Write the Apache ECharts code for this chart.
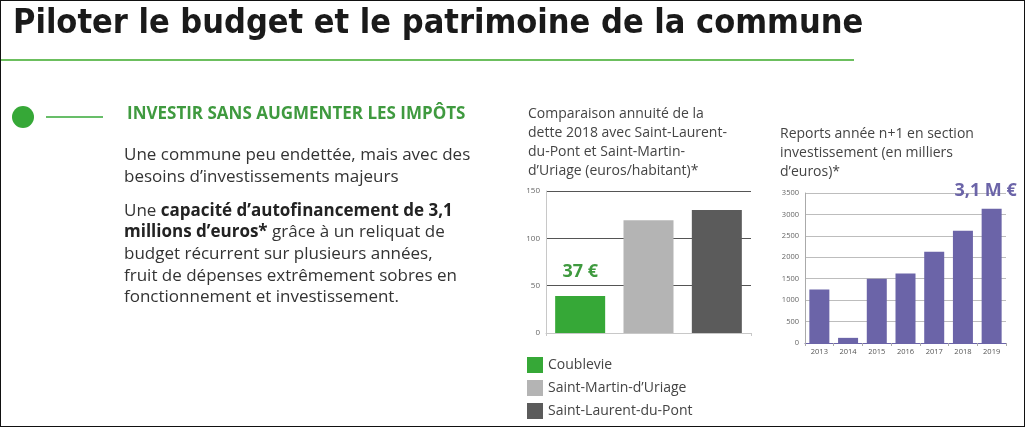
<!DOCTYPE html>
<html>
<head>
    <meta charset="utf-8">
    <script src="https://cdn.jsdelivr.net/npm/echarts@6/dist/echarts.min.js"></script>
    <style>
        html, body { margin: 0; padding: 0; background: #fff; }
        #main { width: 1025px; height: 427px; box-sizing: border-box; border: 1px solid #111; }
    </style>
</head>
<body>
    <div id="main"></div>
</body>
<script type="text/javascript">
    // données
    var communes = ['Coublevie', 'Saint-Martin-d\u2019Uriage', 'Saint-Laurent-du-Pont'];
    var annuite = [39, 119, 130];
    var couleursCommunes = ['#36a837', '#b4b4b4', '#5b5b5b'];

    var annees = ['2013', '2014', '2015', '2016', '2017', '2018', '2019'];
    var reports = [1250, 120, 1500, 1620, 2130, 2620, 3130];

    var FONT = 'Open Sans';
    var myChart = echarts.init(document.getElementById('main'));

    // une série par commune pour la légende
    var seriesCommunes = communes.map(function (nom, i) {
        var d = communes.map(function (c, j) { return j === i ? annuite[j] : '-'; });
        return {
            name: nom,
            type: 'bar',
            stack: 'annuite',
            xAxisIndex: 0,
            yAxisIndex: 0,
            barWidth: 50,
            itemStyle: { color: couleursCommunes[i] },
            label: i === 0 ? {
                show: true,
                position: 'top',
                distance: 15,
                formatter: '37 \u20ac',
                color: '#3f9a3f',
                fontFamily: FONT,
                fontWeight: 'bold',
                fontSize: 18
            } : { show: false },
            data: d
        };
    });

    var lignes = function (arr, x, y0, dy, style) {
        return arr.map(function (t, i) {
            return {
                type: 'text', left: x, top: y0 + i * dy,
                style: Object.assign({ text: t, fontFamily: FONT, fill: '#333' }, style)
            };
        });
    };

    var graphics = [
        { type: 'text', left: 12, top: 6,
          style: { text: 'Piloter le budget et le patrimoine de la commune', fontFamily: 'DejaVu Sans Condensed',
                   fontSize: 34, fontWeight: 'bold', fill: '#1a1a1a' } },
        { type: 'line', shape: { x1: 0, y1: 59, x2: 853, y2: 59 }, style: { stroke: '#6cbf5e', lineWidth: 2 } },
        { type: 'circle', shape: { cx: 22, cy: 116, r: 11 }, style: { fill: '#36a837' } },
        { type: 'line', shape: { x1: 45, y1: 116, x2: 102, y2: 116 }, style: { stroke: '#36a837', lineWidth: 1.5 } },
        { type: 'text', left: 126, top: 105,
          style: { text: 'INVESTIR SANS AUGMENTER LES IMP\u00d4TS', fontFamily: FONT, fontSize: 17,
                   fontWeight: 'bold', fill: '#3f9a3f' } }
    ];
    graphics = graphics.concat(lignes([
        'Une commune peu endett\u00e9e, mais avec des',
        'besoins d\u2019investissements majeurs'
    ], 123, 146, 22, { fontSize: 17 }));
    graphics.push({
        type: 'text', left: 123, top: 199,
        style: {
            text: '{n|Une }{b|capacit\u00e9 d\u2019autofinancement de 3,1}\n{b|millions d\u2019euros*}{n| gr\u00e2ce \u00e0 un reliquat de}\n{n|budget r\u00e9current sur plusieurs ann\u00e9es,}\n{n|fruit de d\u00e9penses extr\u00eamement sobres en}\n{n|fonctionnement et investissement.}',
            fontFamily: FONT, fill: '#333', lineHeight: 21.7,
            rich: {
                n: { fontSize: 17, fontFamily: FONT, fill: '#333', lineHeight: 21.7 },
                b: { fontSize: 17, fontFamily: FONT, fontWeight: 'bold', fill: '#222', lineHeight: 21.7 }
            }
        }
    });
    graphics = graphics.concat(lignes([
        'Comparaison annuit\u00e9 de la',
        'dette 2018 avec Saint-Laurent-',
        'du-Pont et Saint-Martin-',
        'd\u2019Uriage (euros/habitant)*'
    ], 527, 106, 19, { fontSize: 14, fill: '#444' }));
    graphics = graphics.concat(lignes([
        'Reports ann\u00e9e n+1 en section',
        'investissement (en milliers',
        'd\u2019euros)*'
    ], 779, 126, 19, { fontSize: 14, fill: '#444' }));

    myChart.setOption({
        animation: false,
        textStyle: { fontFamily: FONT },
        graphic: graphics,
        legend: {
            data: communes,
            orient: 'vertical',
            left: 521,
            top: 351,
            itemWidth: 16,
            itemHeight: 16,
            itemGap: 7,
            icon: 'rect',
            textStyle: { fontSize: 14, color: '#444', fontFamily: FONT }
        },
        grid: [
            { left: 545, top: 190, width: 205, height: 142 },
            { left: 804, top: 192, width: 201, height: 150 }
        ],
        xAxis: [
            {
                type: 'category', gridIndex: 0, data: communes,
                axisLine: { lineStyle: { color: '#c8c8c8' } },
                axisTick: { show: true, length: 3, lineStyle: { color: '#c8c8c8' } },
                axisLabel: { show: false }
            },
            {
                type: 'category', gridIndex: 1, data: annees,
                axisLine: { lineStyle: { color: '#6b64a8' } },
                axisTick: { show: true, length: 3, lineStyle: { color: '#aaa' } },
                axisLabel: { fontSize: 7.5, color: '#555', margin: 5 }
            }
        ],
        yAxis: [
            {
                type: 'value', gridIndex: 0, min: 0, max: 150, interval: 50,
                axisLine: { show: true, lineStyle: { color: '#c8c8c8' } },
                axisTick: { show: false },
                splitLine: { lineStyle: { color: '#555' } },
                axisLabel: { fontSize: 8, color: '#666', margin: 6 }
            },
            {
                type: 'value', gridIndex: 1, min: 0, max: 3500, interval: 500,
                axisLine: { show: true, lineStyle: { color: '#aaa' } },
                axisTick: { show: false },
                splitLine: { lineStyle: { color: '#bdbdbd' } },
                axisLabel: { fontSize: 7.5, color: '#666', margin: 6, formatter: function (v) { return String(v); } }
            }
        ],
        series: seriesCommunes.concat([{
            name: 'Reports',
            type: 'bar',
            xAxisIndex: 1,
            yAxisIndex: 1,
            barWidth: 20,
            itemStyle: { color: '#6b64a8' },
            label: {
                show: true,
                position: 'top',
                distance: 9,
                offset: [-6, 0],
                color: '#6b64a8',
                fontWeight: 'bold',
                fontSize: 18,
                fontFamily: FONT,
                formatter: function (p) { return p.dataIndex === annees.length - 1 ? '3,1 M \u20ac' : ''; }
            },
            data: reports
        }])
    });
</script>
</html>
